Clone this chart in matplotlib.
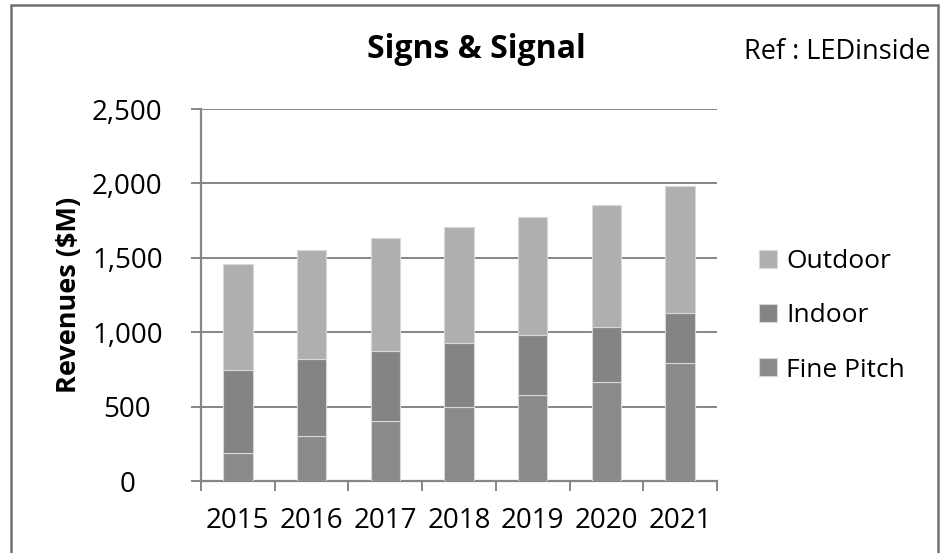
import matplotlib
matplotlib.use("Agg")
from matplotlib import pyplot as plt
from matplotlib.patches import Rectangle
from matplotlib.ticker import FuncFormatter, FixedLocator

plt.rcParams['font.family'] = ['Open Sans', 'DejaVu Sans']

# values ($M)
years = ['2015', '2016', '2017', '2018', '2019', '2020', '2021']
fine_pitch = [186, 302, 405, 495, 578, 663, 791]
indoor = [560, 518, 471, 435, 401, 370, 340]
outdoor = [712, 732, 755, 777, 793, 820, 851]

c_fine = '#8a8a8a'
c_indoor = '#848484'
c_outdoor = '#afafaf'
grey = '#868686'

fig = plt.figure(figsize=(9.42, 5.53), dpi=100)
ax = fig.add_axes([201 / 942, 72 / 553, 516 / 942, 372 / 553])

x = list(range(len(years)))
bottom_out = [f + i for f, i in zip(fine_pitch, indoor)]
b1 = ax.bar(x, fine_pitch, width=0.4, color=c_fine, edgecolor='#d8d8d8', linewidth=0.8, zorder=3)
b2 = ax.bar(x, indoor, width=0.4, bottom=fine_pitch, color=c_indoor, edgecolor='#d8d8d8', linewidth=0.8, zorder=3)
b3 = ax.bar(x, outdoor, width=0.4, bottom=bottom_out, color=c_outdoor, edgecolor='#d8d8d8', linewidth=0.8, zorder=3)

ax.set_xlim(-0.5, len(years) - 0.5)
ax.set_ylim(0, 2500)
ax.set_yticks([0, 500, 1000, 1500, 2000, 2500])
ax.yaxis.set_major_formatter(FuncFormatter(lambda v, p: f'{int(v):,}'))
ax.yaxis.grid(True, color=grey, linewidth=1.4, zorder=0)
ax.set_axisbelow(True)

ax.set_xticks(x)
ax.set_xticklabels(years)
ax.xaxis.set_minor_locator(FixedLocator([i - 0.5 for i in range(len(years) + 1)]))
ax.tick_params(axis='x', which='major', length=0, pad=19, labelsize=20)
ax.tick_params(axis='x', which='minor', length=7, width=1.4, color=grey, direction='out')
# excel centres the value labels in their column
ax.tick_params(axis='y', length=7, width=1.4, color=grey, pad=46, labelsize=20)
for lab in ax.get_yticklabels():
    lab.set_horizontalalignment('center')

for s in ['top', 'right']:
    ax.spines[s].set_visible(False)
for s in ['left', 'bottom']:
    ax.spines[s].set_color(grey)
    ax.spines[s].set_linewidth(1.6)

ax.set_ylabel('Revenues ($M)', fontsize=19.5, fontweight='bold', labelpad=7)

fig.text(476 / 942, 1 - 49 / 553, 'Signs & Signal', fontsize=23, fontweight='bold',
         ha='center', va='center')
fig.text(931 / 942, 1 - 52 / 553, 'Ref : LEDinside', fontsize=19.5, ha='right', va='center')

ax.legend([b3, b2, b1], ['Outdoor', 'Indoor', 'Fine Pitch'],
          loc='center left', bbox_to_anchor=(735 / 942, 1 - 316 / 553),
          bbox_transform=fig.transFigure, frameon=False, fontsize=19,
          handlelength=0.68, handleheight=0.68, handletextpad=0.35, labelspacing=1.1)

# outer frame of the chart object
fig.patches.append(Rectangle((10.5 / 942, -0.05), 927 / 942, 1.05 - 5.5 / 553,
                             transform=fig.transFigure, fill=False,
                             edgecolor='#707070', linewidth=1.8))

fig.savefig('out.png', dpi=100)
